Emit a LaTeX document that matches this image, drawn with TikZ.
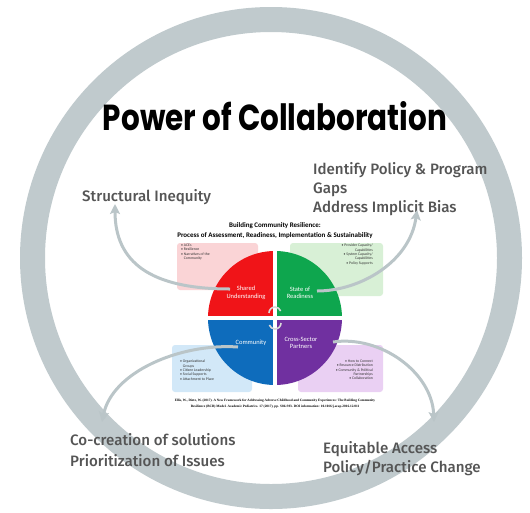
\documentclass[tikz,border=0pt]{standalone}
\usepackage{fontspec}
\setmainfont{Carlito}
\newfontfamily\labfont{Fira Sans Medium}
\newfontfamily\ttlfont{Poppins}
\newfontfamily\citefont{Liberation Serif}
\usetikzlibrary{arrows.meta}
\definecolor{ringc}{RGB}{192,202,205}
\definecolor{arrc}{RGB}{186,197,200}
\definecolor{labc}{RGB}{85,85,85}
\definecolor{qred}{RGB}{240,20,24}
\definecolor{qgreen}{RGB}{14,166,78}
\definecolor{qblue}{RGB}{14,108,188}
\definecolor{qpurple}{RGB}{112,48,160}
\definecolor{bred}{RGB}{250,212,214}
\definecolor{bgreen}{RGB}{216,240,214}
\definecolor{bblue}{RGB}{210,232,248}
\definecolor{bpurple}{RGB}{234,208,243}
\begin{document}
\begin{tikzpicture}[x=1pt,y=-1pt,
  biglab/.style={anchor=base west,inner sep=0pt,font=\labfont\fontsize{15.1}{20}\selectfont,text=labc},
  qlab/.style={align=center,inner sep=0pt,text=white,font=\fontsize{6.5}{7.5}\selectfont},
  boxtxt/.style={inner sep=0pt,font=\fontsize{3.8}{4.3}\selectfont,text=black!80},
  infobox/.style={rounded corners=3pt},
  flow/.style={arrc,line width=3pt,-{Stealth[length=10pt,width=10pt,inset=2pt]}}]
\useasboundingbox (0,0) rectangle (530,512);
\fill[white] (0,0) rectangle (530,512);
% outer ring
\draw[ringc,line width=25pt] (271,258) circle (238.5pt);
% title
\node[inner sep=0pt] (title) at (275,116) {\resizebox{344pt}{29pt}{\ttlfont\bfseries Power of Collaboration}};
% BCR heading
\node[inner sep=0pt,font=\bfseries\fontsize{7}{10}\selectfont,align=center] (bcr) at (275,231)
  {Building Community Resilience:\\Process of Assessment, Readiness, Implementation \& Sustainability};
% info boxes
\fill[bred,infobox] (177,243) rectangle (258,290);
\fill[bgreen,infobox] (290,243) rectangle (383,296);
\fill[bblue,infobox] (172,345) rectangle (252,392);
\fill[bpurple,infobox] (298,345) rectangle (383,392);
\node[boxtxt,anchor=north west,align=left] (tsu) at (181,244)
  {\textbullet\ ACEs\\\textbullet\ Resilience\\\textbullet\ Narratives of the\\\phantom{\textbullet\ }Community};
\node[boxtxt,anchor=north east,align=right] (tsr) at (373,244)
  {\textbullet\ Provider Capacity/\\Capabilities\\\textbullet\ System Capacity/\\Capabilities\\\textbullet\ Policy Supports};
\node[boxtxt,anchor=north west,align=left] (tco) at (180,360)
  {\textbullet\ Organizational\\\phantom{\textbullet\ }Groups\\\textbullet\ Citizen Leadership\\\textbullet\ Social Supports\\\textbullet\ Attachment to Place};
\node[boxtxt,anchor=north east,align=right] (tcs) at (373,360)
  {\textbullet\ How to Connect\\\textbullet\ Resource Distribution\\\textbullet\ Community \& Political\\Partnerships\\\textbullet\ Collaboration};
% pie
\begin{scope}
  \clip (275,318) circle (67pt);
  \fill[qred] (200,240) rectangle (275,318);
  \fill[qgreen] (275,240) rectangle (350,318);
  \fill[qblue] (200,318) rectangle (275,400);
  \fill[qpurple] (275,318) rectangle (350,400);
\end{scope}
\draw[white,line width=3.5pt] (275,249) -- (275,387);
\draw[white,line width=3.5pt] (206,318) -- (344,318);
% centre emblem
\draw[black!15,line width=1.6pt] (269,313) arc[start angle=180,end angle=20,radius=6pt];
\draw[black!15,line width=1.6pt] (281,323) arc[start angle=0,end angle=-160,radius=6pt];
% quadrant labels
\node[qlab] (su) at (246,293) {Shared\\Understanding};
\node[qlab] (sr) at (300,293) {State of\\Readiness};
\node[qlab] (co) at (251,343) {Community};
\node[qlab] (cs) at (301,343) {Cross-Sector\\Partners};
% citation
\node[inner sep=0pt,align=center,font=\citefont\bfseries\fontsize{3.4}{5.8}\selectfont] (cite) at (275,404)
  {Ellis, W., Dietz, W. (2017). A New Framework for Addressing Adverse Childhood and Community Experiences: The Building Community\\
   Resilience (BCR) Model. Academic Pediatrics. 17 (2017), pp. S86-S93. DOI information: 10.1016/j.acap.2016.12.011};
% outcome labels
\node[biglab] (si) at (82,201) {Structural Inequity};
\node[biglab] (ip1) at (313,174) {Identify Policy \& Program};
\node[biglab] (ip2) at (313,193) {Gaps};
\node[biglab] (ip3) at (313,212) {Address Implicit Bias};
\node[biglab] (cc1) at (70,445) {Co-creation of solutions};
\node[biglab] (cc2) at (70,466) {Prioritization of Issues};
\node[biglab] (ea1) at (323,453) {Equitable Access};
\node[biglab] (ea2) at (323,472) {Policy/Practice Change};
% arrow endpoints
\coordinate (a1s) at (230,289);
\coordinate (a1e) at (115,204);
\coordinate (a2s) at (317,291);
\coordinate (a2e) at (417,210);
\coordinate (a3s) at (238,347);
\coordinate (a3e) at (102,422);
\coordinate (a4s) at (333,342);
\coordinate (a4e) at (434,422);
\draw[flow] (a1s) .. controls (150,289) and (115,262) .. (a1e);
\draw[flow] (a2s) .. controls (360,291) and (410,262) .. (a2e);
\draw[flow] (a3s) .. controls (180,343) and (112,372) .. (a3e);
\draw[flow] (a4s) .. controls (380,335) and (432,372) .. (a4e);
\end{tikzpicture}
\end{document}
